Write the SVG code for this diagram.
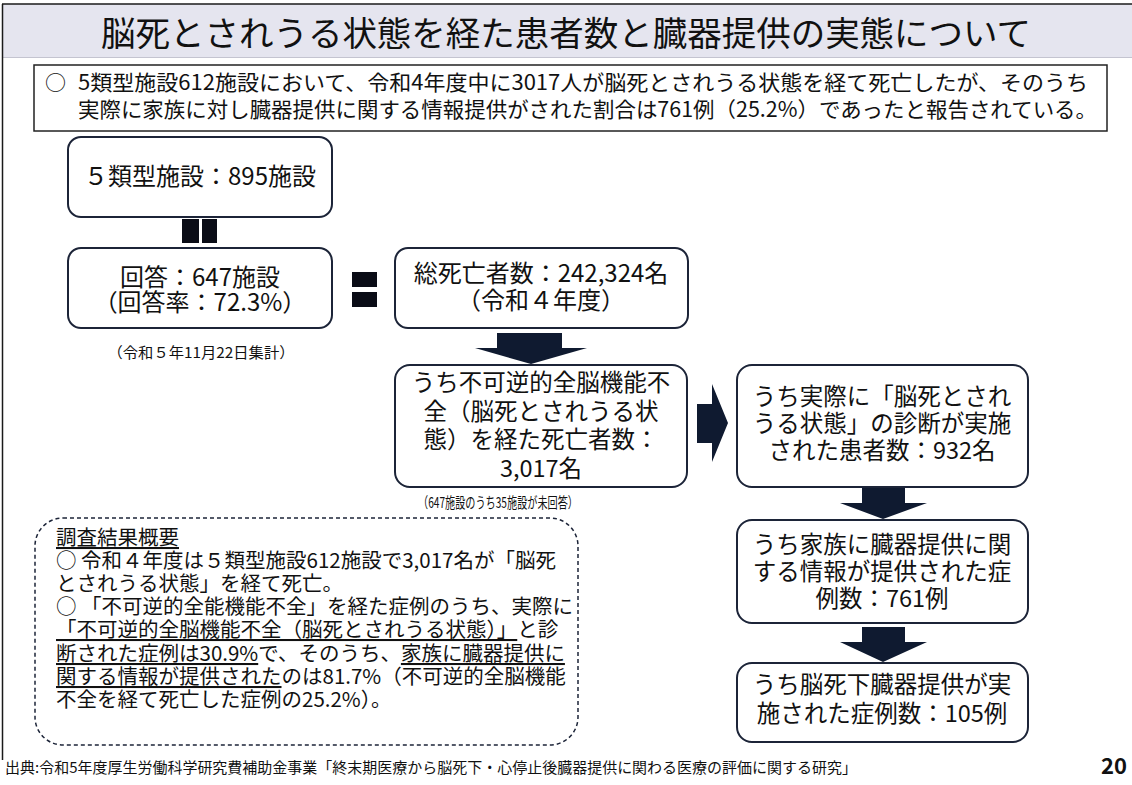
<svg xmlns="http://www.w3.org/2000/svg" width="1132" height="785" viewBox="0 0 1132 785">
<defs>
<style>
text{font-family:"Noto Sans CJK JP","Noto Sans",sans-serif;fill:#111;}
.box{fill:#fff;stroke:#1c2438;stroke-width:2;}
.bt{font-size:24px;text-anchor:middle;}
.bt2{font-size:23.5px;text-anchor:middle;}
.note{font-size:15px;text-anchor:middle;}
.arrow{fill:#0f1a30;}
.bar{fill:#0a0c16;}
.sum{font-size:20.5px;}
.u{text-decoration:underline;}
</style>
</defs>
<rect x="0" y="0" width="1132" height="785" fill="#fff"/>
<!-- title band -->
<rect x="2" y="4" width="1130" height="53" fill="#e5e5ef"/>
<line x1="2" y1="57.5" x2="1132" y2="57.5" stroke="#c4c4d0" stroke-width="1"/>
<line x1="2" y1="4" x2="1132" y2="4" stroke="#1a1a1a" stroke-width="1.5"/>
<line x1="2.5" y1="4" x2="2.5" y2="760" stroke="#1a1a1a" stroke-width="1.5"/>
<text x="566" y="46" font-size="34" text-anchor="middle" textLength="930" lengthAdjust="spacingAndGlyphs">脳死とされうる状態を経た患者数と臓器提供の実態について</text>

<g id="summary-top">
<rect x="34" y="65" width="1073" height="66" fill="#fff" stroke="#222" stroke-width="1.5"/>
<text font-size="21"><tspan x="45" y="90">○</tspan><tspan x="78" y="90" textLength="1010" lengthAdjust="spacingAndGlyphs">5類型施設612施設において、令和4年度中に3017人が脳死とされうる状態を経て死亡したが、そのうち</tspan><tspan x="78" y="117" textLength="1019" lengthAdjust="spacingAndGlyphs">実際に家族に対し臓器提供に関する情報提供がされた割合は761例（25.2%）であったと報告されている。</tspan></text>
</g>

<g id="node-facilities">
<rect class="box" x="68" y="137" width="264" height="80" rx="13"/>
<text class="bt" x="200" y="185">５類型施設：895施設</text>
</g>

<g id="node-responses">
<rect class="box" x="68" y="248" width="264" height="80" rx="13"/>
<text class="bt"><tspan x="200" y="286">回答：647施設</tspan><tspan x="200" y="311">（回答率：72.3%）</tspan></text>
<text class="note" x="201" y="358" textLength="187" lengthAdjust="spacingAndGlyphs">（令和５年11月22日集計）</text>
</g>

<g id="node-total-deaths">
<rect class="box" x="395" y="248" width="293" height="80" rx="13"/>
<text class="bt"><tspan x="541" y="282">総死亡者数：242,324名</tspan><tspan x="541" y="309">（令和４年度）</tspan></text>
</g>

<g id="node-brain-death-state">
<rect class="box" x="395" y="365" width="292" height="122" rx="15"/>
<text class="bt2"><tspan x="541" y="391">うち不可逆的全脳機能不</tspan><tspan x="541" y="420">全（脳死とされうる状</tspan><tspan x="541" y="448">態）を経た死亡者数：</tspan><tspan x="541" y="477">3,017名</tspan></text>
<text class="note" x="498" y="508" textLength="160" lengthAdjust="spacingAndGlyphs">（647施設のうち35施設が未回答）</text>
</g>

<g id="node-diagnosed">
<rect class="box" x="737" y="365" width="291" height="122" rx="15"/>
<text class="bt2"><tspan x="882" y="405">うち実際に「脳死とされ</tspan><tspan x="882" y="432">うる状態」の診断が実施</tspan><tspan x="882" y="459">された患者数：932名</tspan></text>
</g>

<g id="node-info-provided">
<rect class="box" x="737" y="520" width="291" height="103" rx="15"/>
<text class="bt2"><tspan x="882" y="553">うち家族に臓器提供に関</tspan><tspan x="882" y="580">する情報が提供された症</tspan><tspan x="882" y="607">例数：761例</tspan></text>
</g>

<g id="node-donations">
<rect class="box" x="737" y="663" width="291" height="79" rx="15"/>
<text class="bt2"><tspan x="882" y="693">うち脳死下臓器提供が実</tspan><tspan x="882" y="722">施された症例数：105例</tspan></text>
</g>

<g id="connectors">
<rect class="bar" x="182" y="219" width="17" height="24"/>
<rect class="bar" x="202" y="219" width="15" height="24"/>
<rect class="bar" x="352" y="272" width="25" height="15"/>
<rect class="bar" x="352" y="292" width="25" height="15"/>
<polygon class="arrow" points="497,333 562,333 562,348 587,348 531,364 475,348 497,348"/>
<polygon class="arrow" points="697,404 712,404 712,384 728,423 712,462 712,443 697,443"/>
<polygon class="arrow" points="862,488 905,488 905,503 927,503 883,519 840,503 862,503"/>
<polygon class="arrow" points="862,627 905,627 905,642 927,642 883,662 840,642 862,642"/>
</g>

<g id="survey-summary">
<rect x="35" y="518" width="543" height="227" rx="28" fill="none" stroke="#1c2438" stroke-width="1.5" stroke-dasharray="4,3"/>
<text class="sum"><tspan x="56" y="545" class="u">調査結果概要</tspan><tspan x="56" y="568">○ 令和４年度は５類型施設612施設で3,017名が「脳死</tspan><tspan x="56" y="591">とされうる状態」を経て死亡。</tspan><tspan x="56" y="614">○ 「不可逆的全能機能不全」を経た症例のうち、実際に</tspan><tspan x="56" y="637" class="u">「不可逆的全脳機能不全（脳死とされうる状態）」</tspan><tspan>と診</tspan><tspan x="56" y="661" class="u">断された症例は30.9%</tspan><tspan>で、そのうち、</tspan><tspan class="u">家族に臓器提供に</tspan><tspan x="56" y="684" class="u">関する情報が提供された</tspan><tspan>のは81.7%（不可逆的全脳機能</tspan><tspan x="56" y="707">不全を経て死亡した症例の25.2%）。</tspan></text>
</g>

<text x="5" y="773" font-size="15" textLength="852" lengthAdjust="spacingAndGlyphs">出典:令和5年度厚生労働科学研究費補助金事業「終末期医療から脳死下・心停止後臓器提供に関わる医療の評価に関する研究」</text>
<text x="1127" y="774" font-size="22" font-weight="bold" text-anchor="end">20</text>
</svg>
